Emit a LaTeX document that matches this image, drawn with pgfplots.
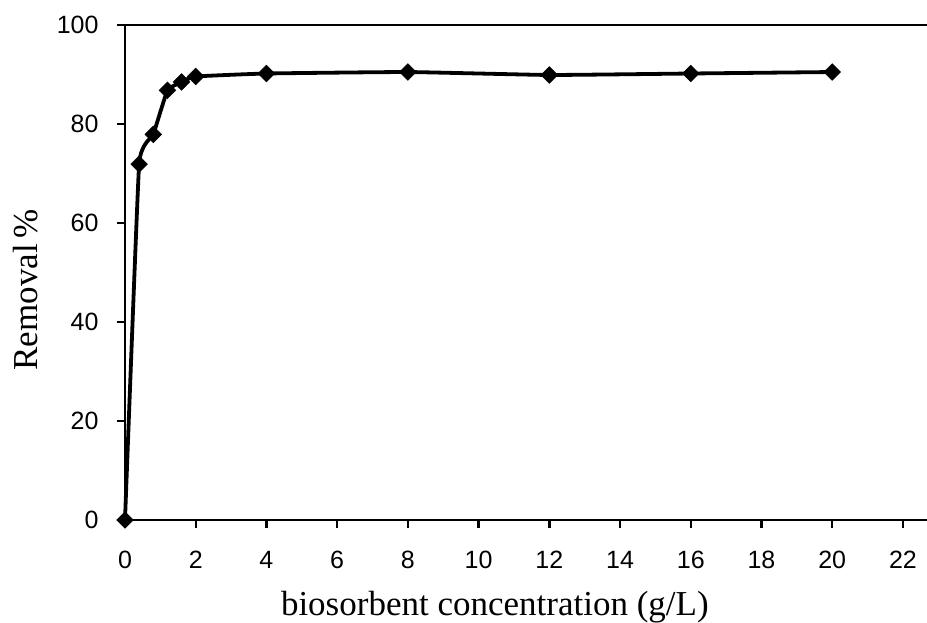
\documentclass[border=0pt]{standalone}
\usepackage{pgfplots}
\pgfplotsset{compat=1.18}
\usetikzlibrary{calc}
\usepackage{fontspec}
\setmainfont{Liberation Serif}
\newfontfamily\tickfont{Liberation Sans}

\begin{document}
\begin{tikzpicture}
\begin{axis}[
  name=ax,
  scale only axis,
  width=820pt, height=495pt,
  xmin=0, xmax=23.19,
  ymin=0, ymax=100,
  xtick={0,2,...,22},
  ytick={0,20,...,100},
  tick align=outside,
  xtick pos=bottom, ytick pos=left,
  major tick length=8pt,
  every tick/.style={black, line width=2.4pt},
  axis line style={black, line width=2.8pt},
  /pgf/number format/assume math mode=true,
  ticklabel style={font=\fontsize{25}{28}\selectfont\tickfont},
  xticklabel style={yshift=-20pt},
  yticklabel style={xshift=-15pt},
  label style={font=\fontsize{35}{40}\selectfont},
  xlabel={biosorbent concentration (g/L)},
  xlabel style={at={(axis description cs:0.451,-0.193)}, anchor=base},
  ylabel={Removal\,\%},
  ylabel style={at={(axis description cs:-0.1207,0.465)}, anchor=center},
  clip=false,
]
\addplot[black, line width=3.8pt, smooth, tension=0.2,
  mark=square*, mark size=5.9pt,
  mark options={rotate=45, line width=0.5pt, fill=black}]
  coordinates {
  (0,0) (0.4,71.9) (0.8,77.9) (1.2,86.8) (1.6,88.5) (2,89.6)
  (4,90.2) (8,90.5) (12,89.9) (16,90.2) (20,90.5)
};
\end{axis}
\pgfresetboundingbox
\path[use as bounding box] ($(ax.south west)+(-125pt,-103pt)$) rectangle ($(ax.south west)+(802pt,520pt)$);
\end{tikzpicture}
\end{document}
